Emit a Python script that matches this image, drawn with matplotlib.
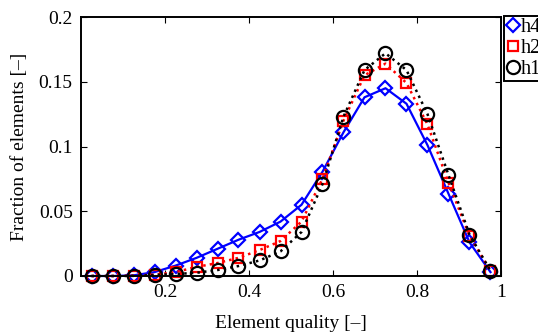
import numpy as np
import matplotlib
matplotlib.use("Agg")
import matplotlib.pyplot as plt
from matplotlib.lines import Line2D

plt.rcParams["font.family"] = ["Liberation Serif", "DejaVu Serif"]

# bin centres of the element quality histogram
quality = [0.025, 0.075, 0.125, 0.175, 0.225, 0.275, 0.325, 0.375, 0.425, 0.475,
           0.525, 0.575, 0.625, 0.675, 0.725, 0.775, 0.825, 0.875, 0.925, 0.975]

# fraction of elements per bin for each mesh size
frac_h4 = [0.0, 0.0, 0.0005, 0.003, 0.008, 0.014, 0.021, 0.028, 0.034, 0.042,
           0.055, 0.0805, 0.111, 0.138, 0.145, 0.133, 0.101, 0.0635, 0.026, 0.003]
frac_h2 = [0.0, 0.0, 0.0002, 0.001, 0.003, 0.007, 0.010, 0.014, 0.020, 0.027,
           0.042, 0.075, 0.120, 0.155, 0.164, 0.149, 0.117, 0.072, 0.031, 0.004]
frac_h1 = [0.0, 0.0, 0.0001, 0.0008, 0.0015, 0.0025, 0.0046, 0.0077, 0.012, 0.019,
           0.034, 0.071, 0.123, 0.159, 0.172, 0.159, 0.125, 0.078, 0.032, 0.004]

labels = ["h4", "h2", "h1"]
styles = [
    dict(color="blue", ls="-", lw=1.6, marker="D", ms=7.5, mew=1.6),
    dict(color="red", ls=":", lw=1.8, marker="s", ms=7.5, mew=1.6),
    dict(color="black", ls=":", lw=1.8, marker="o", ms=9.5, mew=1.6),
]

fig = plt.figure(figsize=(5.38, 3.36), dpi=100)
ax = fig.add_axes([81 / 538, 60 / 336, 420 / 538, 259 / 336])

for y, lab, st in zip([frac_h4, frac_h2, frac_h1], labels, styles):
    ax.plot(quality, y, mfc="none", label=lab, clip_on=False, **st)

ax.set_xlim(0, 1)
ax.set_ylim(0, 0.2)
ax.set_xticks([0.2, 0.4, 0.6, 0.8, 1.0])
ax.set_xticklabels(["0.2", "0.4", "0.6", "0.8", "1"])
ax.set_yticks([0, 0.05, 0.1, 0.15, 0.2])
ax.set_yticklabels(["0", "0.05", "0.1", "0.15", "0.2"])
ax.tick_params(direction="in", length=4, width=0.8, top=True, right=True,
               labelsize=14, pad=6)
for s in ax.spines.values():
    s.set_linewidth(1.4)

ax.set_xlabel("Element quality [–]", fontsize=14, labelpad=10)
ax.set_ylabel("Fraction of elements [–]", fontsize=14, labelpad=8)

# legend shows markers only, sitting against the right spine
handles = [Line2D([], [], color=st["color"], ls="none", marker=st["marker"],
                  ms=st["ms"], mew=st["mew"], mfc="none") for st in styles]
leg = fig.legend(handles, labels, loc="upper left",
                 bbox_to_anchor=(504 / 538, 1 - 16 / 336),
                 fontsize=14.5, handlelength=0.7, handletextpad=0.05,
                 borderpad=0.1, labelspacing=0.1, borderaxespad=0,
                 fancybox=False, edgecolor="black", framealpha=1)
leg.get_frame().set_linewidth(1.4)

fig.savefig("out.png", dpi=100)
